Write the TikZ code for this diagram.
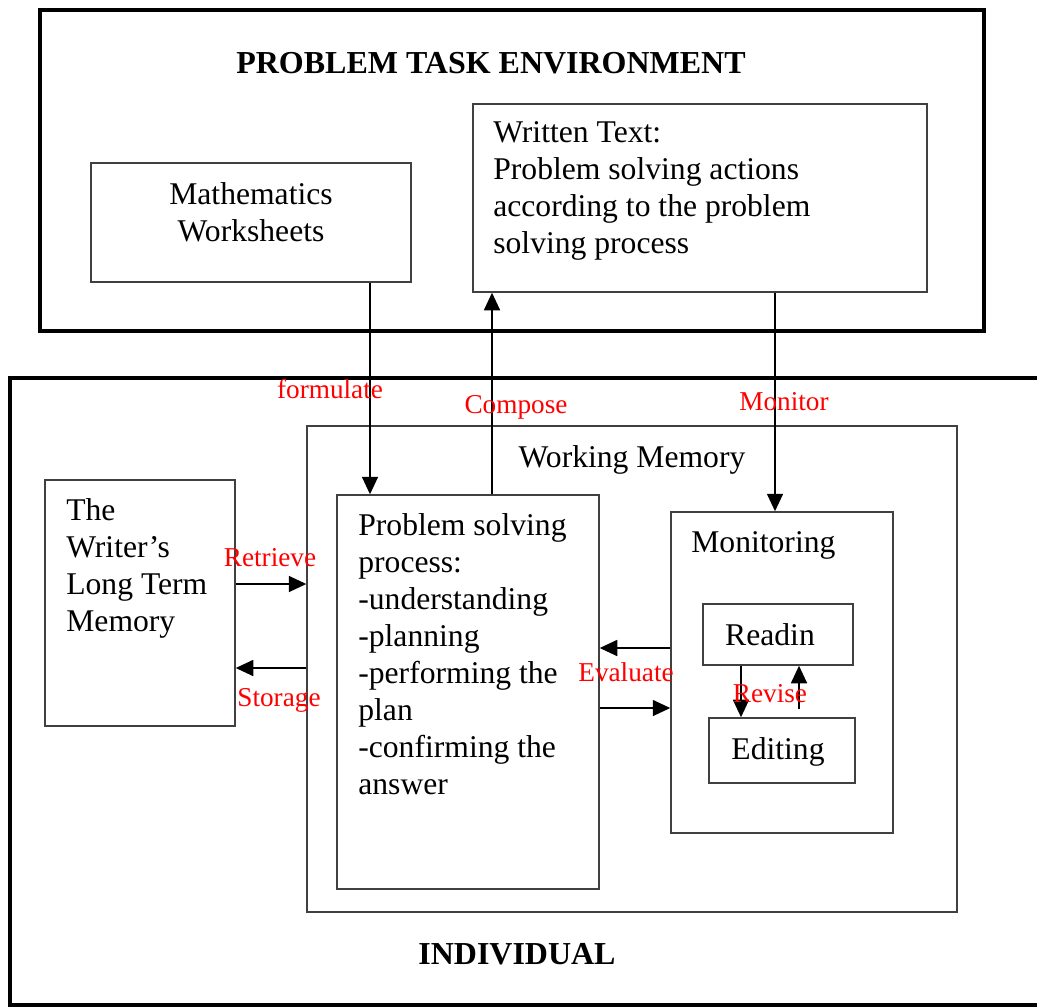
\documentclass[tikz,border=0pt]{standalone}
\usepackage{fontspec}
\setmainfont{Liberation Serif}
\usetikzlibrary{arrows.meta}
\begin{document}
\begin{tikzpicture}[x=0.02cm,y=-0.02cm,
  box/.style={draw=black!75,line width=0.8pt,inner sep=0pt},
  frame/.style={draw,line width=2.5pt,inner sep=0pt},
  txt/.style={inner sep=0pt,font=\fontsize{18}{21}\selectfont},
  title/.style={inner sep=0pt,font=\fontsize{18.2}{21}\selectfont\bfseries},
  lbl/.style={inner sep=0pt,text=red,font=\fontsize{15.5}{18}\selectfont},
  arr/.style={line width=1.3pt,-{Triangle[length=10pt,width=9pt]}}]
\useasboundingbox (0,0) rectangle (1037,1007);
\node[frame,minimum width=18.88cm,minimum height=6.42cm] (pte) at (512,170.5) {};
\node[box,minimum width=6.4cm,minimum height=2.38cm] (math) at (251,222.5) {};
\node[box,minimum width=9.08cm,minimum height=3.76cm] (written) at (700,198) {};
\node[frame,minimum width=20.8cm,minimum height=12.54cm] (indiv) at (530,691.5) {};
\node[box,minimum width=13cm,minimum height=9.72cm] (wm) at (632,669) {};
\node[box,minimum width=3.8cm,minimum height=4.92cm] (ltm) at (140,603) {};
\node[box,minimum width=5.24cm,minimum height=7.88cm] (ps) at (468,692) {};
\node[box,minimum width=4.44cm,minimum height=6.42cm] (mon) at (782,672.5) {};
\node[box,minimum width=3cm,minimum height=1.22cm] (read) at (778,634.5) {};
\node[box,minimum width=2.92cm,minimum height=1.3cm] (edit) at (782,750.5) {};

\node[title,anchor=base] (pteT) at (491,73) {PROBLEM TASK ENVIRONMENT};
\node[txt,align=center,anchor=north] (mathT) at (251,182.5) {Mathematics\\Worksheets};
\node[txt,align=left,anchor=north west] (writtenT) at (493,121.5)
  {Written Text:\\Problem solving actions\\according to the problem\\solving process};
\node[txt,anchor=base] (wmT) at (632,467) {Working Memory};
\node[txt,align=left,anchor=north west] (ltmT) at (66,498.5) {The\\Writer’s\\Long Term\\Memory};
\node[txt,align=left,anchor=north west] (psT) at (358,513.5)
  {Problem solving\\process:\\-understanding\\-planning\\-performing the\\plan\\-confirming the\\answer};
\node[txt,anchor=base west] (monT) at (691,552) {Monitoring};
\node[txt,anchor=base] (readT) at (770,645) {Readin};
\node[txt,anchor=base] (editT) at (778,759) {Editing};
\node[title,anchor=base] (indT) at (517,964) {INDIVIDUAL};

\draw[arr] (math.south -| 370,0) -- (ps.north -| 370,0);
\draw[arr] (ps.north -| 492,0) -- (written.south -| 492,0);
\draw[arr] (written.south -| 775,0) -- (mon.north -| 775,0);
\draw[arr] (ltm.east |- 0,584) -- (wm.west |- 0,584);
\draw[arr] (wm.west |- 0,668) -- (ltm.east |- 0,668);
\draw[arr] (mon.west |- 0,648) -- (ps.east |- 0,648);
\draw[arr] (ps.east |- 0,708) -- (mon.west |- 0,708);
\draw[arr] (read.south -| 741,0) -- (edit.north -| 741,0);
\draw[arr,shorten <=5pt] (edit.north -| 799,0) -- (read.south -| 799,0);

\node[lbl,anchor=base] (formulateL) at (330,398) {formulate};
\node[lbl,anchor=base] (composeL) at (516,413) {Compose};
\node[lbl,anchor=base] (monitorL) at (784,410) {Monitor};
\node[lbl,anchor=base] (retrieveL) at (270,566) {Retrieve};
\node[lbl,anchor=base] (storageL) at (279,706) {Storage};
\node[lbl,anchor=base] (evaluateL) at (626,681) {Evaluate};
\node[lbl,anchor=base] (reviseL) at (770,702) {Revise};
\end{tikzpicture}
\end{document}
